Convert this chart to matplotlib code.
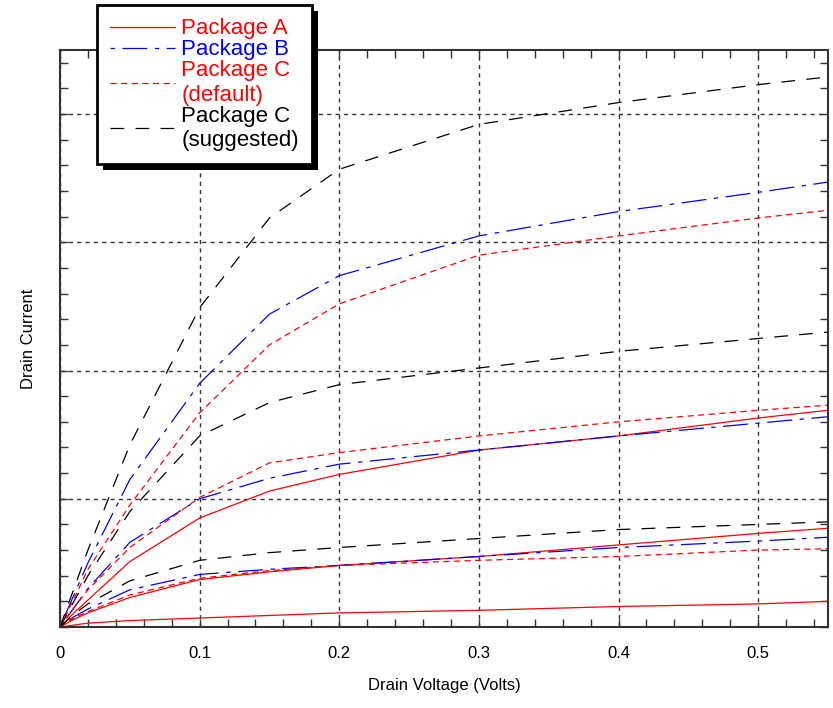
import matplotlib
matplotlib.use("Agg")
import matplotlib.pyplot as plt
from matplotlib.patches import Rectangle
from matplotlib.ticker import MultipleLocator, NullFormatter

plt.rcParams["font.family"] = ["Liberation Sans", "DejaVu Sans"]

# drain voltage sample points
volts = [0, 0.01, 0.02, 0.05, 0.1, 0.15, 0.2, 0.3, 0.4, 0.5, 0.55]

# Package A (three gate voltages)
pkg_a = [
    [0, 0.015, 0.03, 0.05, 0.07, 0.09, 0.11, 0.13, 0.16, 0.18, 0.20],
    [0, 0.06, 0.11, 0.23, 0.37, 0.43, 0.48, 0.55, 0.64, 0.73, 0.77],
    [0, 0.11, 0.21, 0.51, 0.85, 1.06, 1.19, 1.38, 1.49, 1.63, 1.69],
]
# Package B
pkg_b = [
    [0, 0.08, 0.14, 0.29, 0.41, 0.45, 0.48, 0.55, 0.62, 0.67, 0.70],
    [0, 0.15, 0.30, 0.66, 1.00, 1.16, 1.27, 1.38, 1.49, 1.59, 1.64],
    [0, 0.25, 0.50, 1.15, 1.90, 2.44, 2.74, 3.05, 3.24, 3.39, 3.47],
]
# Package C (default)
pkg_c_def = [
    [0, 0.07, 0.12, 0.25, 0.38, 0.44, 0.48, 0.52, 0.55, 0.60, 0.61],
    [0, 0.15, 0.29, 0.62, 1.01, 1.28, 1.36, 1.49, 1.60, 1.69, 1.73],
    [0, 0.22, 0.45, 0.95, 1.67, 2.20, 2.52, 2.90, 3.05, 3.19, 3.25],
]
# Package C (suggested)
pkg_c_sug = [
    [0, 0.10, 0.18, 0.36, 0.52, 0.58, 0.62, 0.69, 0.76, 0.80, 0.82],
    [0, 0.20, 0.40, 0.90, 1.49, 1.75, 1.89, 2.02, 2.15, 2.25, 2.30],
    [0, 0.30, 0.60, 1.42, 2.49, 3.19, 3.57, 3.92, 4.09, 4.23, 4.29],
]

labels = ["Package A", "Package B", "Package C\n(default)", "Package C\n(suggested)"]

fig = plt.figure(figsize=(8.33, 7.08), dpi=100)
ax = fig.add_axes([60 / 833, 1 - 627 / 708, 768 / 833, 577 / 708])

styles = [
    dict(color="#ff0000", linestyle="-"),
    dict(color="#0000ff", linestyle=(0, (3.5, 6, 20, 6))),
    dict(color="#ff0000", linestyle=(0, (5, 3.5))),
    dict(color="black", linestyle=(0, (11, 9))),
]

handles = []
for group, st, lab in zip([pkg_a, pkg_b, pkg_c_def, pkg_c_sug], styles, labels):
    for i, curve in enumerate(group):
        ln, = ax.plot(volts, curve, lw=0.9, label=lab if i == 0 else None, **st)
        if i == 0:
            handles.append(ln)

ax.set_xlim(0, 0.55)
ax.set_ylim(0, 4.5)
ax.xaxis.set_major_locator(MultipleLocator(0.1))
ax.xaxis.set_minor_locator(MultipleLocator(0.02))
ax.yaxis.set_major_locator(MultipleLocator(1))
ax.yaxis.set_minor_locator(MultipleLocator(0.2))
ax.yaxis.set_major_formatter(NullFormatter())
ax.xaxis.set_major_formatter(plt.FuncFormatter(lambda v, p: "0" if abs(v) < 1e-9 else f"{v:.1f}"))

ax.tick_params(which="both", direction="in", top=True, right=True, length=6, width=1,
               colors="#333333", labelcolor="black", labelsize=12)
ax.tick_params(axis="x", pad=14)
for sp in ax.spines.values():
    sp.set_linewidth(1.5)
    sp.set_color("#333333")

ax.grid(True, which="major", color="#333333", linestyle=(0, (3, 3)), linewidth=1)

ax.set_xlabel("Drain Voltage (Volts)", fontsize=12, labelpad=12)
ax.set_ylabel("Drain Current", fontsize=12, labelpad=14)

leg = fig.legend(handles=handles, loc="upper left",
                 bbox_to_anchor=(97 / 833, 1 - 5 / 708),
                 fontsize=16, handlelength=2.9, handletextpad=0.3,
                 labelspacing=0.0, borderpad=0.6, borderaxespad=0,
                 fancybox=False, framealpha=1, edgecolor="black",
                 labelcolor="linecolor")
leg.get_frame().set_linewidth(2)
leg.set_zorder(5)

fig.canvas.draw()
bb = leg.get_window_extent()
fig.patches.append(Rectangle((bb.x0 + 6, bb.y0 - 6), bb.width, bb.height,
                             transform=None, facecolor="black", edgecolor="none",
                             zorder=4, figure=fig))

fig.savefig("out.png", dpi=100)
